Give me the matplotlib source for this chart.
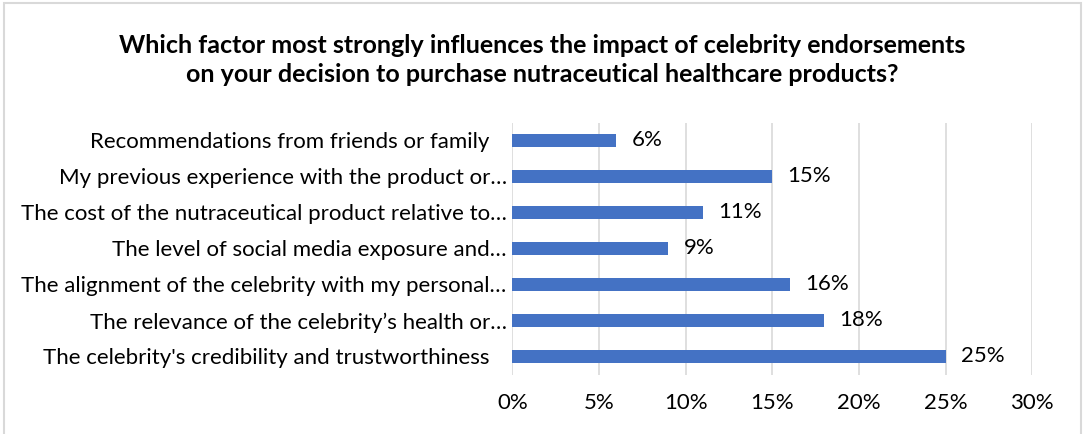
import matplotlib
matplotlib.use("Agg")
import matplotlib.pyplot as plt
from matplotlib.transforms import ScaledTranslation
from matplotlib.patches import Rectangle

categories = [
    "The celebrity's credibility and trustworthiness",
    "The relevance of the celebrity\u2019s health or\u2026",
    "The alignment of the celebrity with my personal\u2026",
    "The level of social media exposure and\u2026",
    "The cost of the nutraceutical product relative to\u2026",
    "My previous experience with the product or\u2026",
    "Recommendations from friends or family",
]
values = [25, 18, 16, 9, 11, 15, 6]
xticks = [0, 5, 10, 15, 20, 25, 30]
title = ("Which factor most strongly influences the impact of celebrity endorsements\n"
         "on your decision to purchase nutraceutical healthcare products?")

plt.rcParams['font.family'] = ['Lato', 'DejaVu Sans']
W, H = 1085, 434
fig = plt.figure(figsize=(W / 100, H / 100), dpi=100)
fig.patch.set_facecolor('white')
fig.patches.append(Rectangle((3.5 / W, -0.05), (1081 - 3.5) / W, 1.05 - 3.5 / H,
                             transform=fig.transFigure, fill=False,
                             edgecolor='#d9d9d9', linewidth=1.5))

ax = fig.add_axes([512.3 / W, 1 - 374.5 / H, 520 / W, 252 / H])
y = list(range(len(categories)))
ax.barh(y, values, height=0.35, color='#4472C4', zorder=3)
ax.set_xlim(0, 30)
ax.set_ylim(-0.5, len(categories) - 0.5)
ax.set_xticks(xticks)
ax.set_xticklabels([f"{t}%" for t in xticks])
ax.set_yticks(y)
ax.set_yticklabels(categories)
ax.grid(axis='x', color='#d9d9d9', linewidth=1.2, zorder=0)
for s in ax.spines.values():
    s.set_visible(False)
ax.tick_params(axis='both', length=0, labelsize=16, colors='#000000')
ax.tick_params(axis='x', pad=13)
ax.tick_params(axis='y', pad=4)

for lab in ax.get_yticklabels():
    if not lab.get_text().endswith('\u2026'):
        lab.set_transform(lab.get_transform() + ScaledTranslation(-17 / 100, 0, fig.dpi_scale_trans))

for yi, v in zip(y, values):
    ax.annotate(f"{v}%", (v, yi), xytext=(11, 0), textcoords='offset points',
                va='center', ha='left', fontsize=16, color='#000000')

fig.text(0.5, 1 - 60 / H, title, ha='center', va='center', fontsize=18,
         fontweight='bold', linespacing=1.32, color='#000000')

fig.savefig("out.png", dpi=100)
